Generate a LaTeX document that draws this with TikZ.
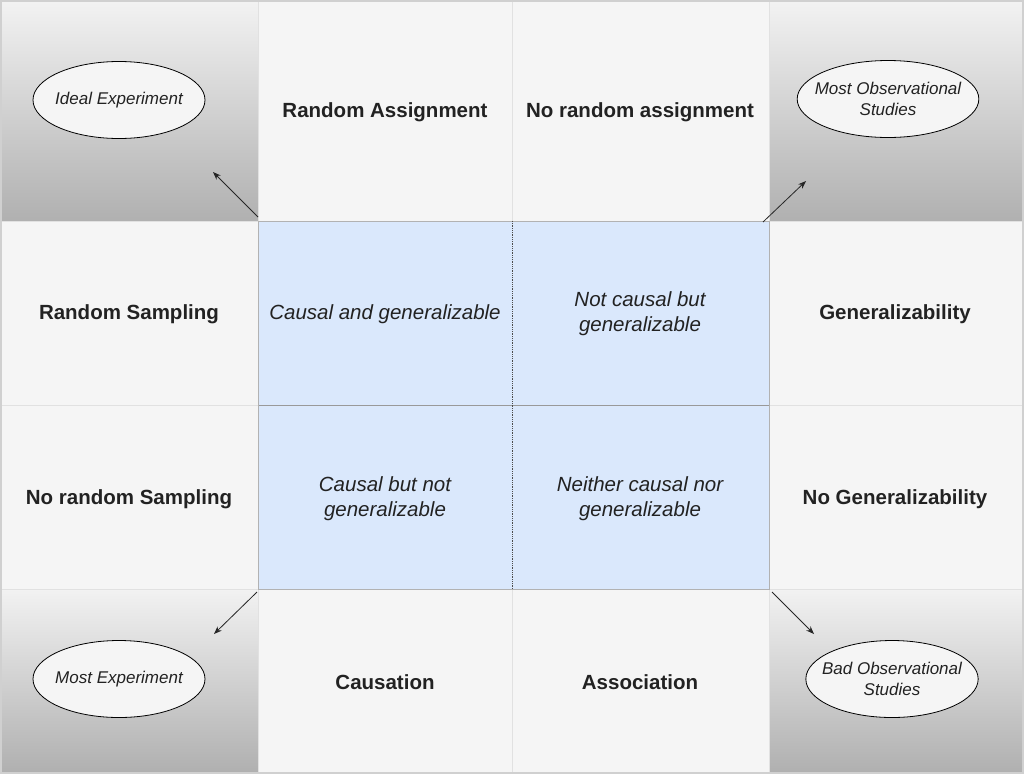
\documentclass[tikz,border=0pt]{standalone}
\usepackage{fontspec}
\setmainfont{Liberation Sans}
\usetikzlibrary{arrows.meta,shapes.geometric}
\definecolor{cellbg}{RGB}{245,245,245}
\definecolor{framec}{RGB}{208,208,208}
\definecolor{gridc}{RGB}{225,225,225}
\definecolor{bluec}{RGB}{218,232,252}
\definecolor{txtc}{RGB}{34,34,34}
\definecolor{gtop}{RGB}{242,242,242}
\definecolor{gbot}{RGB}{176,176,176}
\tikzset{
  hdr/.style={text=txtc,font=\bfseries\fontsize{20.5}{24.5}\selectfont,align=center},
  cellt/.style={text=txtc,font=\itshape\fontsize{20.5}{24.8}\selectfont,align=center},
  oval/.style={ellipse,draw=black,line width=0.8pt,fill=cellbg,minimum width=172pt,minimum height=77pt,inner xsep=-9pt,inner ysep=0pt,text=txtc,font=\itshape\fontsize{17}{20.5}\selectfont,align=center},
  corner/.style={top color=gtop,bottom color=gbot,draw=none},
  pointer/.style={draw=black!85,line width=0.8pt,-{Stealth[length=8pt,width=6pt]}}
}
\begin{document}
\begin{tikzpicture}[x=1pt,y=-1pt]
\useasboundingbox (0,0) rectangle (1024,774);
% background and frame
\fill[cellbg] (0,0) rectangle (1024,774);
% corner gradient cells
\shade[corner] (2,2) rectangle (258,221);
\shade[corner] (769,2) rectangle (1022,221);
\shade[corner] (2,589) rectangle (258,772);
\shade[corner] (769,589) rectangle (1022,772);
% blue quadrant
\fill[bluec] (258,221) rectangle (769,589);
% grid lines
\draw[gridc,line width=1pt] (258,0) -- (258,774);
\draw[gridc,line width=1pt] (769,0) -- (769,774);
\draw[gridc,line width=1pt] (512,0) -- (512,221);
\draw[gridc,line width=1pt] (512,589) -- (512,774);
\draw[gridc,line width=1pt] (0,221) -- (1024,221);
\draw[gridc,line width=1pt] (0,589) -- (1024,589);
\draw[gridc,line width=1pt] (0,405) -- (258,405);
\draw[gridc,line width=1pt] (769,405) -- (1024,405);
\draw[black!40,line width=1pt] (258,405) -- (769,405);
\draw[black!30,line width=0.8pt] (258,221) rectangle (769,589);
\draw[black!70,line width=0.8pt,densely dotted] (512,221) -- (512,589);
\draw[framec,line width=2pt] (1,1) rectangle (1023,773);
% headers
\node[hdr] (ra) at (385,112) {Random Assignment};
\node[hdr] (nra) at (640,112) {No random assignment};
\node[hdr] (rs) at (129,314) {Random Sampling};
\node[hdr] (gen) at (895,314) {Generalizability};
\node[hdr] (nrs) at (129,499) {No random Sampling};
\node[hdr] (ngen) at (895,499) {No Generalizability};
\node[hdr] (cau) at (385,682) {Causation};
\node[hdr] (ass) at (640,682) {Association};
% quadrant texts
\node[cellt] (q1) at (385,314) {Causal and generalizable};
\node[cellt] (q2) at (640,314) {Not causal but\\generalizable};
\node[cellt] (q3) at (385,499) {Causal but not\\generalizable};
\node[cellt] (q4) at (640,499) {Neither causal nor\\generalizable};
% ovals
\node[oval] (ideal) at (119,100) {Ideal Experiment};
\node[oval] (mobs) at (888,99) {Most Observational\\Studies};
\node[oval] (mexp) at (119,679) {Most Experiment};
\node[oval] (bobs) at (892,679) {Bad Observational\\Studies};
% pointers
\coordinate (tlS) at (258,217);
\coordinate (tlE) at (213,172);
\coordinate (trS) at (763,222);
\coordinate (trE) at (806,181);
\coordinate (blS) at (257,592);
\coordinate (blE) at (214,634);
\coordinate (brS) at (772,592);
\coordinate (brE) at (814,634);
\draw[pointer] (tlS) -- (tlE);
\draw[pointer] (trS) -- (trE);
\draw[pointer] (blS) -- (blE);
\draw[pointer] (brS) -- (brE);
\end{tikzpicture}
\end{document}
